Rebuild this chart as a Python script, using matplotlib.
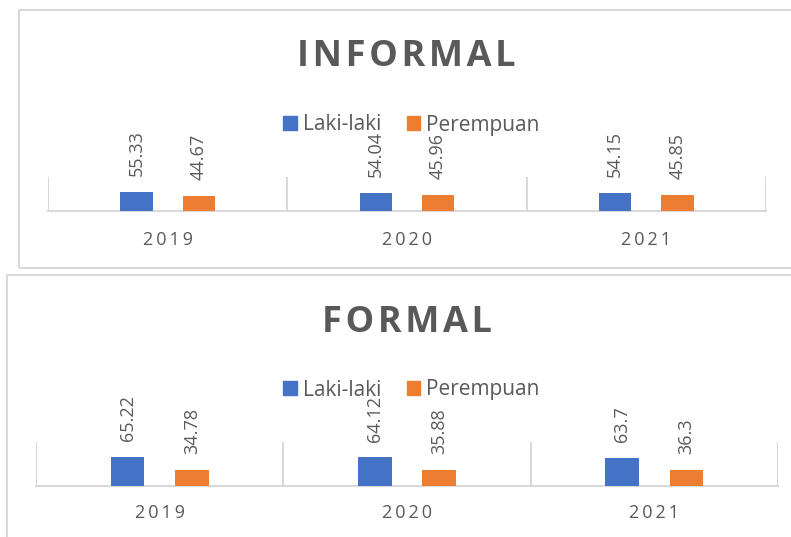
import matplotlib
matplotlib.use("Agg")
import matplotlib.pyplot as plt
from matplotlib.patches import Rectangle, Patch

plt.rcParams['font.family'] = ['Open Sans', 'DejaVu Sans']

categories = ["2019", "2020", "2021"]
series_names = ["Laki-laki", "Perempuan"]
informal_laki = [55.33, 54.04, 54.15]
informal_perempuan = [44.67, 45.96, 45.85]
formal_laki = [65.22, 64.12, 63.7]
formal_perempuan = [34.78, 35.88, 36.3]
informal_labels = [["55.33", "54.04", "54.15"], ["44.67", "45.96", "45.85"]]
formal_labels = [["65.22", "64.12", "63.7"], ["34.78", "35.88", "36.3"]]

W, H = 791, 537
BLUE = "#4472C4"
ORANGE = "#ED7D31"
GRAY = "#595959"
LINE = "#d9d9d9"

fig = plt.figure(figsize=(W / 100, H / 100), dpi=100)

def fx(px):
    return px / W

def fy(py):
    return (H - py) / H

# boxes
fig.add_artist(Rectangle((fx(19), fy(268)), fx(800) - fx(19), fy(10) - fy(268),
                         transform=fig.transFigure, fill=False, ec=LINE, lw=1.5))
fig.add_artist(Rectangle((fx(7), fy(545)), fx(800) - fx(7), fy(275) - fy(545),
                         transform=fig.transFigure, fill=False, ec=LINE, lw=1.5))

def spaced(s, sep="\u2009"):
    return sep.join(list(s))

def panel(left, right, top, bottom, laki, perem, labels, title, title_y, legend_y, cat_y):
    ax = fig.add_axes([fx(left), fy(bottom), fx(right) - fx(left), fy(top) - fy(bottom)])
    x = list(range(len(categories)))
    off, w = 0.13, 0.135
    ax.bar([i - off for i in x], laki, width=w, color=BLUE, zorder=3)
    ax.bar([i + off for i in x], perem, width=w, color=ORANGE, zorder=3)
    for vals, labs, sgn in ((laki, labels[0], -1), (perem, labels[1], 1)):
        for i, (v, t) in enumerate(zip(vals, labs)):
            ax.annotate(t, (i + sgn * off, v), xytext=(0, 11.5), textcoords="offset points",
                        rotation=90, ha="center", va="bottom", color=GRAY, fontsize=13,
                        annotation_clip=False)
    ax.set_xlim(-0.5, len(categories) - 0.5)
    ax.set_ylim(0, 100)
    for b in [-0.5, 0.5, 1.5, 2.5]:
        ax.axvline(b, color=LINE, lw=1.5, zorder=1)
    for s in ["top", "left", "right"]:
        ax.spines[s].set_visible(False)
    ax.spines["bottom"].set_color(LINE)
    ax.spines["bottom"].set_linewidth(1.5)
    ax.set_yticks([])
    ax.set_xticks([])
    for i, c in enumerate(categories):
        fig.text(fx(left) + (fx(right) - fx(left)) * (i + 0.5) / 3, fy(cat_y), spaced(c),
                 ha="center", va="center", fontsize=13, color=GRAY)
    fig.text(fx(406.5), fy(title_y), spaced(title, "\u200a"), ha="center", va="center",
             fontsize=26, fontweight="bold", color=GRAY)
    handles = [Patch(color=BLUE), Patch(color=ORANGE)]
    fig.legend(handles, series_names, loc="center", bbox_to_anchor=(fx(411.5), fy(legend_y)),
               ncol=2, frameon=False, fontsize=15, labelcolor=GRAY, handlelength=0.65,
               handleheight=0.65, handletextpad=0.3, columnspacing=1.2, borderpad=0)
    return ax

panel(48, 766, 177, 211, informal_laki, informal_perempuan, informal_labels,
      "INFORMAL", 57, 125, 240)
panel(36, 778, 441.7, 485.7, formal_laki, formal_perempuan, formal_labels,
      "FORMAL", 323, 390, 513)

fig.savefig("out.png", dpi=100)
